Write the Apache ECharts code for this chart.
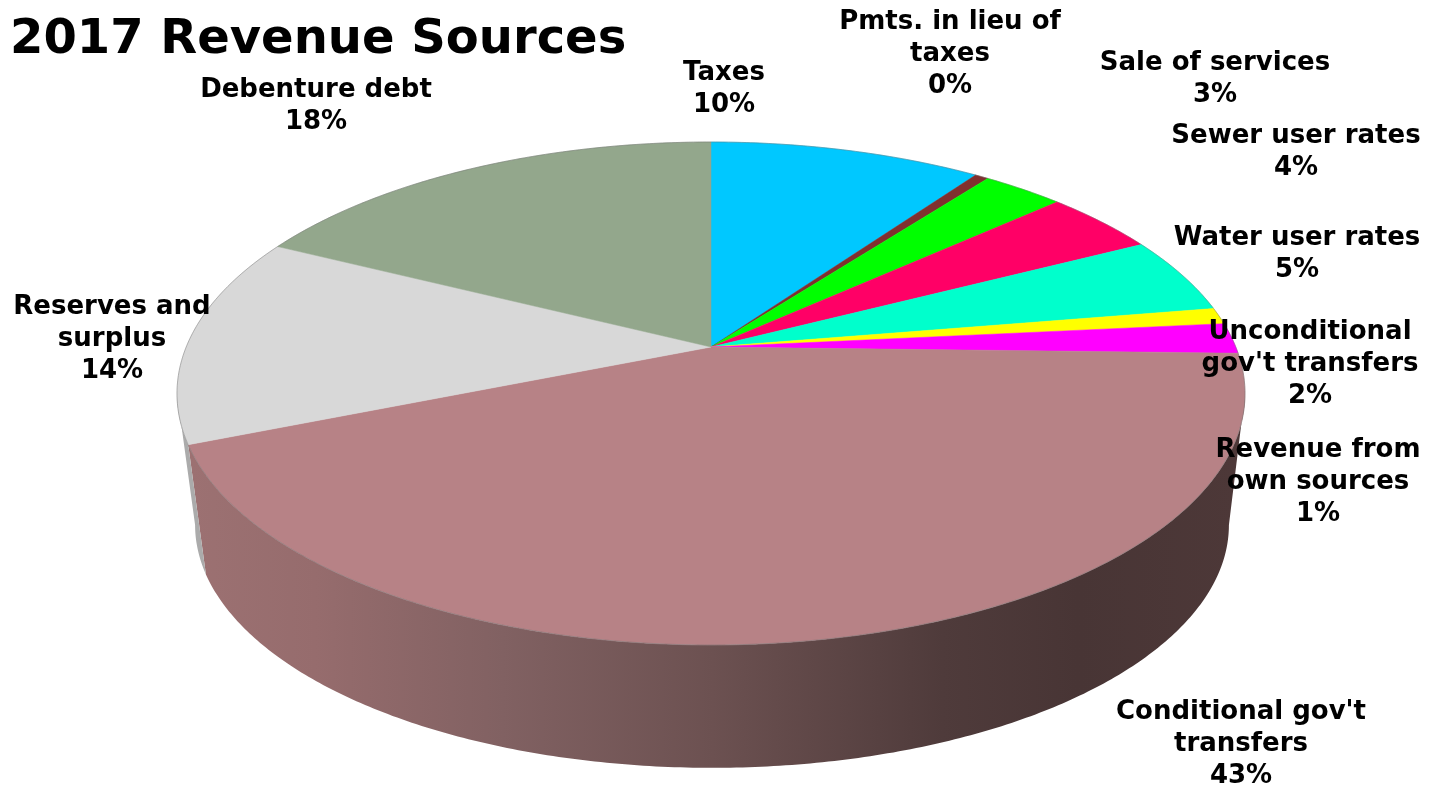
<!DOCTYPE html>
<html>
<head>
<meta charset="utf-8">
<title>2017 Revenue Sources</title>
<script src="https://cdn.jsdelivr.net/npm/echarts@6/dist/echarts.min.js"></script>
<style>
  html, body { margin: 0; padding: 0; background: #fff; }
  #chart { width: 1435px; height: 787px; }
</style>
</head>
<body>
<div id="chart"></div>
<script>
// Revenue shares in percent, clockwise from twelve o'clock
const categories = [
  'Taxes', 'Pmts. in lieu of\ntaxes', 'Sale of services', 'Sewer user rates',
  'Water user rates', 'Revenue from\nown sources', "Unconditional\ngov't transfers",
  "Conditional gov't\ntransfers", 'Reserves and\nsurplus', 'Debenture debt'
];
const shares = [9.85, 0.49, 2.95, 4.15, 4.95, 1.05, 1.96, 43.49, 13.5, 17.61];
const topColors = [
  '#00C8FF', '#80302F', '#00FF00', '#FF0066', '#00FFCC',
  '#FFFF00', '#FF00FF', '#B78286', '#D8D8D8', '#93A78C'
];

// Label block centres, one per category
const labelCentres = [
  [724, 89], [950, 54], [1215, 79], [1296, 152], [1297, 254],
  [1318, 482], [1310, 364], [1241, 744], [112, 339], [316, 106]
];

// Perspective disc: rim of the pie face and rim of the base
const faceDisc = { cx: 711, cy: 347, a: 242.9, b: 524.8, k: 0.1849 };
const baseDisc = { cx: 712, cy: 480, a: 234.6, b: 508, k: 0.1849 };
// Angle (from twelve o'clock) where the rim turns out of sight on the right; mirrored on the left
const silhouetteAngle = Math.PI / 2 + Math.asin(faceDisc.k);

const total = shares.reduce((sum, v) => sum + v, 0);
const startAngles = [];
shares.reduce((acc, v, i) => {
  startAngles[i] = acc / total * Math.PI * 2;
  return acc + v;
}, 0);

function project(disc, theta) {
  const u = Math.sin(theta);
  const v = Math.cos(theta);
  const w = 1 + disc.k * v;
  return [disc.cx + disc.b * u / w, disc.cy - disc.a * v / w];
}

function arcPoints(disc, from, to) {
  const steps = Math.max(2, Math.ceil(Math.abs(to - from) / 0.01));
  const pts = [];
  for (let i = 0; i <= steps; i++) {
    pts.push(project(disc, from + (to - from) * i / steps));
  }
  return pts;
}

function sliceRange(i) {
  return [startAngles[i], startAngles[i] + shares[i] / total * Math.PI * 2];
}

function wallFill(i) {
  if (i === 7) {
    return {
      type: 'linear', x: 190, y: 0, x2: 1235, y2: 0, global: true,
      colorStops: [
        { offset: 0, color: '#9C7172' },
        { offset: 0.12, color: '#966C6D' },
        { offset: 0.3, color: '#816162' },
        { offset: 0.5, color: '#6C5151' },
        { offset: 0.72, color: '#4F3B3B' },
        { offset: 0.85, color: '#483535' },
        { offset: 1, color: '#4D3838' }
      ]
    };
  }
  return '#ABABAB';
}

// Side wall segments first, so the pie face sits on top of them
function renderWall(params) {
  const i = params.dataIndex;
  const [s, e] = sliceRange(i);
  const from = Math.max(s, silhouetteAngle);
  const to = Math.min(e, Math.PI * 2 - silhouetteAngle);
  if (to <= from) return null;
  const pts = arcPoints(faceDisc, from, to).concat(arcPoints(baseDisc, to, from));
  return { type: 'polygon', shape: { points: pts }, style: { fill: wallFill(i) }, silent: true };
}

function renderFace(params) {
  const i = params.dataIndex;
  const [s, e] = sliceRange(i);
  const rim = arcPoints(faceDisc, s, e);
  return {
    type: 'group',
    silent: true,
    children: [
      {
        type: 'polygon',
        shape: { points: [[faceDisc.cx, faceDisc.cy]].concat(rim) },
        style: { fill: topColors[i], stroke: topColors[i], lineWidth: 0.5 }
      },
      {
        type: 'polyline',
        shape: { points: rim },
        style: { fill: null, stroke: 'rgba(110,110,110,0.45)', lineWidth: 1 }
      }
    ]
  };
}

function renderLabel(params, api) {
  const i = params.dataIndex;
  return {
    type: 'text',
    silent: true,
    style: {
      x: labelCentres[i][0],
      y: labelCentres[i][1],
      text: categories[i] + '\n' + Math.round(api.value(1)) + '%',
      align: 'center',
      verticalAlign: 'middle',
      fill: '#000',
      font: 'bold 26px "DejaVu Sans"',
      lineHeight: 32
    }
  };
}

const rows = categories.map((name, i) => [i, shares[i]]);

const chart = echarts.init(document.getElementById('chart'), null, { renderer: 'canvas' });
chart.setOption({
  animation: false,
  backgroundColor: '#fff',
  title: {
    text: '2017 Revenue Sources',
    left: 5,
    top: 12,
    textStyle: { fontFamily: 'DejaVu Sans', fontWeight: 'bold', fontSize: 48, color: '#000' }
  },
  xAxis: { show: false, type: 'value' },
  yAxis: { show: false, type: 'value' },
  grid: { left: 0, right: 0, top: 0, bottom: 0 },
  series: [
    { type: 'custom', coordinateSystem: 'none', data: rows, renderItem: renderWall, z: 1 },
    { type: 'custom', coordinateSystem: 'none', data: rows, renderItem: renderFace, z: 2 },
    { type: 'custom', coordinateSystem: 'none', data: rows, renderItem: renderLabel, z: 3 }
  ]
});
</script>
</body>
</html>
